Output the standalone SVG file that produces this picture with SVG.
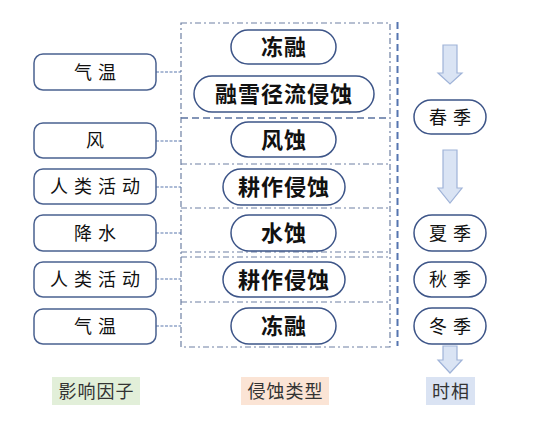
<svg xmlns="http://www.w3.org/2000/svg" width="544" height="432" viewBox="0 0 544 432">
<style>
.fbox{fill:#fff;stroke:#4a6190;stroke-width:1.5}
.pill{fill:#fff;stroke:#3d5588;stroke-width:1.5}
.lt{font-family:"Noto Sans CJK SC","Noto Sans CJK JP",sans-serif;font-size:18px;fill:#111;text-anchor:middle;letter-spacing:6px}
.mt{font-family:"Noto Sans CJK SC","Noto Sans CJK JP",sans-serif;font-size:22px;font-weight:bold;fill:#111;text-anchor:middle;letter-spacing:1px}
.bt{font-family:"Noto Sans CJK SC","Noto Sans CJK JP",sans-serif;font-size:18px;fill:#333;text-anchor:middle;letter-spacing:1px}
.conn{stroke:#5b78ad;stroke-width:1.2;stroke-dasharray:3 1.5;fill:none}
.dd{stroke:#6e80a3;stroke-width:1.2;stroke-dasharray:6 3 2 3;fill:none}
.arr{fill:#dae4f4;stroke:#9fb3d8;stroke-width:1.2}
</style>
<rect width="544" height="432" fill="#fff"/>
<g id="middle-frame">
<rect x="181" y="23" width="209" height="324" class="dd"/>
<line x1="181" y1="118" x2="390" y2="118" stroke="#5b73a0" stroke-width="1.3" stroke-dasharray="7 4"/>
<line x1="181" y1="164" x2="390" y2="164" class="dd"/>
<line x1="181" y1="208" x2="390" y2="208" class="dd"/>
<line x1="181" y1="252" x2="390" y2="252" class="dd"/>
<line x1="181" y1="257" x2="390" y2="257" class="dd"/>
<line x1="181" y1="302" x2="390" y2="302" class="dd"/>
<line x1="397.5" y1="22" x2="397.5" y2="346" stroke="#5575b0" stroke-width="2" stroke-dasharray="7 4"/>
</g>
<g id="connectors">
<line x1="156" y1="72" x2="181" y2="72" class="conn"/>
<line x1="156" y1="141" x2="181" y2="141" class="conn"/>
<line x1="156" y1="187" x2="181" y2="187" class="conn"/>
<line x1="156" y1="233" x2="181" y2="233" class="conn"/>
<line x1="156" y1="279" x2="181" y2="279" class="conn"/>
<line x1="156" y1="326" x2="181" y2="326" class="conn"/>
</g>
<g id="f1"><rect x="34" y="54" width="122" height="36" rx="9" class="fbox"/><text x="98" y="78.5" class="lt">气温</text></g>
<g id="f2"><rect x="34" y="123" width="122" height="35" rx="9" class="fbox"/><text x="98" y="147" class="lt">风</text></g>
<g id="f3"><rect x="34" y="169" width="122" height="35" rx="9" class="fbox"/><text x="98" y="193" class="lt">人类活动</text></g>
<g id="f4"><rect x="34" y="215" width="122" height="36" rx="9" class="fbox"/><text x="98" y="239.5" class="lt">降水</text></g>
<g id="f5"><rect x="34" y="262" width="122" height="35" rx="9" class="fbox"/><text x="98" y="286" class="lt">人类活动</text></g>
<g id="f6"><rect x="34" y="309" width="122" height="35" rx="9" class="fbox"/><text x="98" y="333" class="lt">气温</text></g>
<g id="e1"><rect x="231" y="30" width="105" height="34" rx="17" class="pill"/><text x="284" y="55" class="mt">冻融</text></g>
<g id="e2"><rect x="194" y="76" width="180" height="36" rx="18" class="pill"/><text x="284" y="102" class="mt">融雪径流侵蚀</text></g>
<g id="e3"><rect x="231" y="122" width="105" height="35" rx="17.5" class="pill"/><text x="284" y="147.5" class="mt">风蚀</text></g>
<g id="e4"><rect x="223" y="169" width="122" height="36" rx="18" class="pill"/><text x="284" y="195" class="mt">耕作侵蚀</text></g>
<g id="e5"><rect x="231" y="215" width="105" height="36" rx="18" class="pill"/><text x="284" y="241" class="mt">水蚀</text></g>
<g id="e6"><rect x="223" y="262" width="122" height="35" rx="17.5" class="pill"/><text x="284" y="287.5" class="mt">耕作侵蚀</text></g>
<g id="e7"><rect x="231" y="308" width="105" height="36" rx="18" class="pill"/><text x="284" y="334" class="mt">冻融</text></g>
<g id="arrows">
<polygon points="443,45 457,45 457,73 462,73 450,84 438,73 443,73" class="arr"/>
<polygon points="443,150 457,150 457,188 462,188 450,203 438,188 443,188" class="arr"/>
<polygon points="443,346 457,346 457,360 462,360 450,373 438,360 443,360" class="arr"/>
</g>
<g id="s1"><rect x="414" y="100" width="72" height="34" rx="17" class="pill"/><text x="453" y="123.5" class="lt">春季</text></g>
<g id="s2"><rect x="414" y="215" width="72" height="36" rx="18" class="pill"/><text x="453" y="239.5" class="lt">夏季</text></g>
<g id="s3"><rect x="414" y="262" width="72" height="35" rx="17.5" class="pill"/><text x="453" y="286" class="lt">秋季</text></g>
<g id="s4"><rect x="414" y="308" width="72" height="36" rx="18" class="pill"/><text x="453" y="332.5" class="lt">冬季</text></g>
<g id="l1"><rect x="52" y="377" width="88" height="28" fill="#e2efd9"/><text x="96.5" y="397.5" class="bt">影响因子</text></g>
<g id="l2"><rect x="241" y="377" width="88" height="28" fill="#fbe4d5"/><text x="285.5" y="397.5" class="bt">侵蚀类型</text></g>
<g id="l3"><rect x="426" y="377" width="49" height="28" fill="#dae3f3"/><text x="451" y="397.5" class="bt">时相</text></g>
</svg>
